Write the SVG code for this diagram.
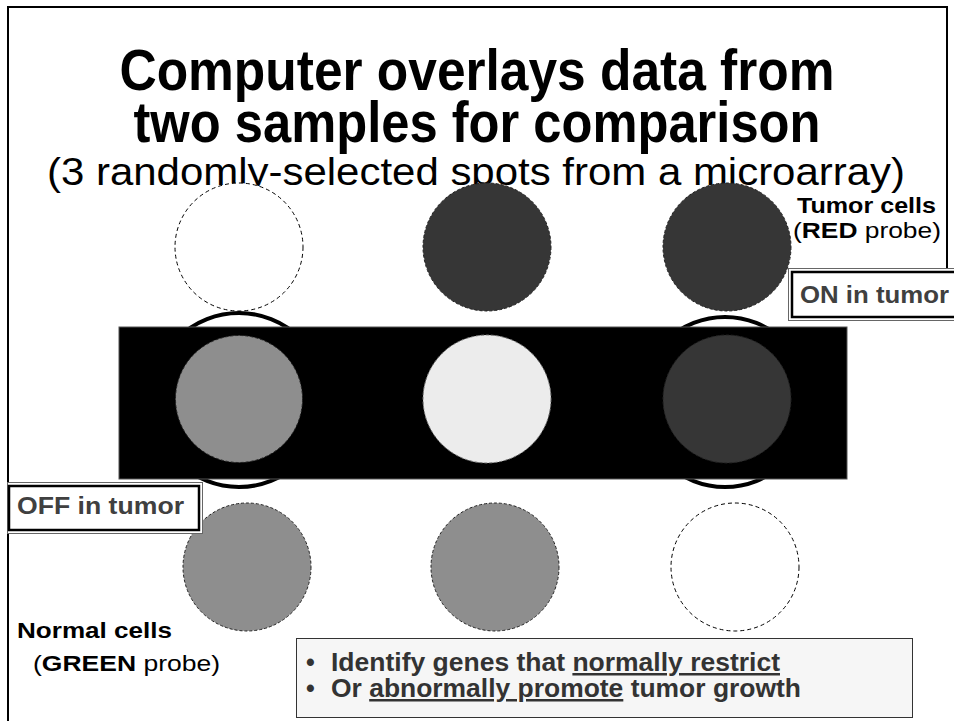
<svg xmlns="http://www.w3.org/2000/svg" width="954" height="721" viewBox="0 0 954 721">
<style>
text{font-family:"Liberation Sans Narrow","Liberation Sans",Arial,sans-serif;}
.title{font-size:57px;font-weight:bold;fill:#000;text-anchor:middle;}
.sub{font-size:38px;fill:#000;text-anchor:middle;}
.lbl{font-size:22px;fill:#000;}
.b{font-weight:bold;}
.tag{font-size:23px;font-weight:bold;fill:#404040;}
.bul{font-size:25px;font-weight:bold;fill:#333;}
.empty{fill:#fff;stroke:#000;stroke-width:1;stroke-dasharray:4 3;}
.dark{fill:#363636;stroke:#222;stroke-width:1;stroke-dasharray:3 2;}
.gray{fill:#8e8e8e;stroke:#222;stroke-width:1;stroke-dasharray:3 2;}
.light{fill:#ececec;stroke:#777;stroke-width:1;stroke-dasharray:3 2;}
.ring{fill:none;stroke:#000;stroke-width:4;}
</style>
<g id="frame" fill="none" stroke="#000" stroke-width="2">
<polyline points="8,721 8,7 947,7 947,268"/>
</g>
<g id="title">
<text class="title" x="477" y="90" textLength="715" lengthAdjust="spacingAndGlyphs">Computer overlays data from</text>
<text class="title" x="477" y="142" textLength="687" lengthAdjust="spacingAndGlyphs">two samples for comparison</text>
<text class="sub" x="476" y="185" textLength="858" lengthAdjust="spacingAndGlyphs">(3 randomly-selected spots from a microarray)</text>
</g>
<g id="tumor-label">
<text class="lbl b" x="797" y="213" textLength="139" lengthAdjust="spacingAndGlyphs">Tumor cells</text>
<text class="lbl" x="793" y="238" textLength="148" lengthAdjust="spacingAndGlyphs">(<tspan class="b">RED</tspan> probe)</text>
</g>
<g id="top-row">
<circle class="empty" cx="239" cy="247" r="64"/>
<circle class="dark" cx="487" cy="247" r="64"/>
<circle class="dark" cx="727" cy="247" r="64"/>
</g>
<g id="overlay-rings">
<circle class="ring" cx="239" cy="400" r="87"/>
<circle class="ring" cx="725" cy="402" r="85"/>
</g>
<g id="overlay">
<rect x="119" y="327" width="728" height="152" fill="#000" stroke="#555" stroke-width="1"/>
<circle class="gray" cx="239" cy="399" r="63.5"/>
<circle class="light" cx="487" cy="399" r="64"/>
<circle class="dark" cx="727" cy="399" r="64"/>
</g>
<g id="bottom-row">
<circle class="gray" cx="247" cy="567" r="64"/>
<circle class="gray" cx="495" cy="567" r="64"/>
<circle class="empty" cx="735" cy="567" r="64"/>
</g>
<g id="on-tag">
<rect x="788.5" y="268.5" width="170" height="52" fill="#fff" stroke="#666" stroke-width="1"/>
<rect x="792" y="272" width="170" height="45" fill="#fff" stroke="#000" stroke-width="2.5"/>
<text class="tag" x="800" y="303" textLength="149" lengthAdjust="spacingAndGlyphs">ON in tumor</text>
</g>
<g id="off-tag">
<rect x="7.5" y="482.5" width="195" height="51" fill="#fff" stroke="#666" stroke-width="1"/>
<rect x="9" y="486" width="190" height="44" fill="#fff" stroke="#000" stroke-width="2.5"/>
<text class="tag" x="17" y="514" textLength="167" lengthAdjust="spacingAndGlyphs">OFF in tumor</text>
</g>
<g id="normal-label">
<text class="lbl b" x="17" y="638" textLength="155" lengthAdjust="spacingAndGlyphs">Normal cells</text>
<text class="lbl" x="33" y="671" textLength="187" lengthAdjust="spacingAndGlyphs">(<tspan class="b">GREEN</tspan> probe)</text>
</g>
<g id="note">
<rect x="296.5" y="638.5" width="616" height="79" fill="#f6f6f6" stroke="#333" stroke-width="1"/>
<text class="bul" x="306" y="671">•</text>
<text class="bul" x="331" y="671" textLength="449" lengthAdjust="spacingAndGlyphs">Identify genes that <tspan text-decoration="underline">normally restrict</tspan></text>
<text class="bul" x="306" y="697">•</text>
<text class="bul" x="331" y="697" textLength="470" lengthAdjust="spacingAndGlyphs">Or <tspan text-decoration="underline">abnormally promote</tspan> tumor growth</text>
</g>
</svg>
